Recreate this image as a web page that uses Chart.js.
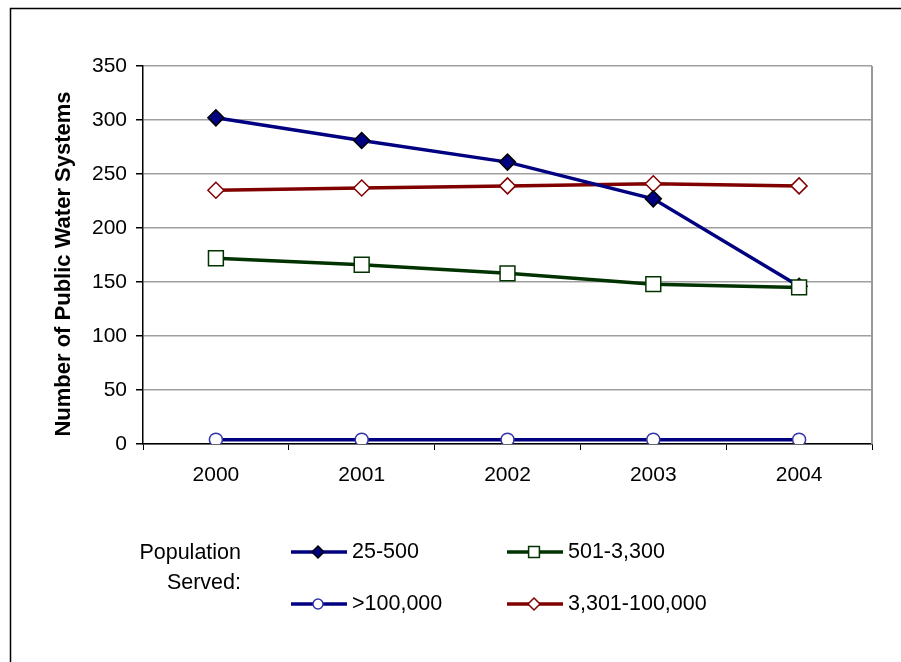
<!DOCTYPE html>
<html>
<head>
<meta charset="utf-8">
<script src="https://cdn.jsdelivr.net/npm/chart.js@4"></script>
<style>
  html, body { margin:0; padding:0; background:#fff; }
  #wrap { width:901px; height:662px; position:relative; }
</style>
</head>
<body>
<div id="wrap"><canvas id="waterChart" width="901" height="662"></canvas></div>
<script>
const years = ['2000','2001','2002','2003','2004'];

const small = [302, 281, 261, 227, 146];          // 25-500
const medium = [172, 166, 158, 148, 145];         // 501-3,300
const large = [235, 237, 239, 241, 239];          // 3,301-100,000
const veryLarge = [4, 4, 4, 4, 4];                // >100,000

const yTicks = [0, 50, 100, 150, 200, 250, 300, 350];
const yTitle = 'Number of Public Water Systems';

const FONT = 'Arial, "Liberation Sans", sans-serif';

// legend order as in the picture: col 1 / col 2, row 1 / row 2
const legendItems = [
  { ds: 0, col: 0, row: 0 },
  { ds: 1, col: 1, row: 0 },
  { ds: 3, col: 0, row: 1 },
  { ds: 2, col: 1, row: 1 }
];

// ==========================
// FRAME + RIGHT BORDER + TITLE + LEGEND
// ==========================
const decorPlugin = {
  id: 'decor',
  beforeDraw(chart){
    const ctx = chart.ctx;
    ctx.save();
    ctx.strokeStyle = '#000';
    ctx.lineWidth = 1.5;
    ctx.strokeRect(10.5, 8.5, 1200, 1200);
    ctx.restore();
  },
  beforeDatasetsDraw(chart){
    const {ctx, chartArea} = chart;
    ctx.save();
    ctx.strokeStyle = '#999';
    ctx.lineWidth = 2;
    ctx.beginPath();
    ctx.moveTo(chartArea.right, chartArea.top);
    ctx.lineTo(chartArea.right, chartArea.bottom);
    ctx.stroke();
    ctx.restore();
  },
  afterDraw(chart){
    const ctx = chart.ctx;
    ctx.save();
    // y axis title (Excel centres it a bit lower than the plot)
    ctx.save();
    ctx.translate(64, 264);
    ctx.rotate(-Math.PI / 2);
    ctx.font = 'bold 22px ' + FONT;
    ctx.fillStyle = '#000';
    ctx.textAlign = 'center';
    ctx.textBaseline = 'middle';
    ctx.fillText(yTitle, 0, 0);
    ctx.restore();

    ctx.font = '21.5px ' + FONT;
    ctx.fillStyle = '#000';
    ctx.textAlign = 'right';
    ctx.textBaseline = 'middle';
    ctx.fillText('Population', 241, 553);
    ctx.fillText('Served:', 241, 583);

    const colX = [291, 507];
    const rowY = [552, 604];
    legendItems.forEach(it => {
      const ds = chart.data.datasets[it.ds];
      const x0 = colX[it.col], y = rowY[it.row];
      const cx = x0 + 27;
      ctx.strokeStyle = ds.borderColor;
      ctx.lineWidth = 3.5;
      ctx.beginPath();
      ctx.moveTo(x0, y);
      ctx.lineTo(x0 + 56, y);
      ctx.stroke();
      ctx.fillStyle = ds.pointBackgroundColor;
      ctx.strokeStyle = ds.pointBorderColor;
      ctx.lineWidth = 1.5;
      const r = ds.pointStyle === 'rect' ? 7.5 : 6;
      ctx.beginPath();
      if (ds.pointStyle === 'rect') {
        ctx.rect(cx - r*0.72, y - r*0.72, r*1.44, r*1.44);
      } else if (ds.pointStyle === 'rectRot') {
        ctx.moveTo(cx, y - r); ctx.lineTo(cx + r, y);
        ctx.lineTo(cx, y + r); ctx.lineTo(cx - r, y);
        ctx.closePath();
      } else {
        ctx.arc(cx, y, r - 1, 0, Math.PI * 2);
      }
      ctx.fill();
      ctx.stroke();
      ctx.fillStyle = '#000';
      ctx.textAlign = 'left';
      ctx.fillText(ds.label, x0 + 61, y);
    });
    ctx.restore();
  }
};

const chart = new Chart(document.getElementById('waterChart'), {
  type: 'line',
  data: {
    labels: years,
    datasets: [
      {
        label: '25-500', data: small,
        borderColor: '#000080', borderWidth: 3.5,
        pointStyle: 'rectRot', pointRadius: 8,
        pointBackgroundColor: '#000080', pointBorderColor: '#000', pointBorderWidth: 1.5,
        tension: 0, order: 1
      },
      {
        label: '501-3,300', data: medium,
        borderColor: '#003300', borderWidth: 3.5,
        pointStyle: 'rect', pointRadius: 10.5,
        pointBackgroundColor: '#fff', pointBorderColor: '#003300', pointBorderWidth: 1.5,
        tension: 0, order: 0
      },
      {
        label: '3,301-100,000', data: large,
        borderColor: '#800000', borderWidth: 3.5,
        pointStyle: 'rectRot', pointRadius: 8,
        pointBackgroundColor: '#fff', pointBorderColor: '#800000', pointBorderWidth: 1.5,
        tension: 0, order: 2
      },
      {
        label: '>100,000', data: veryLarge,
        borderColor: '#000080', borderWidth: 3.5,
        pointStyle: 'circle', pointRadius: 6.5,
        pointBackgroundColor: '#fff', pointBorderColor: '#3333aa', pointBorderWidth: 1.5,
        tension: 0, order: 3
      }
    ]
  },
  options: {
    responsive: false,
    animation: false,
    layout: { padding: { left: 0, top: 66, right: 29, bottom: 168 } },
    plugins: {
      legend: { display: false },
      tooltip: { enabled: false }
    },
    scales: {
      x: {
        offset: true,
        grid: {
          offset: true, drawOnChartArea: false, drawTicks: true,
          tickLength: 6, tickColor: '#000'
        },
        border: { color: '#000', width: 1.5 },
        ticks: { color: '#000', font: { family: FONT, size: 21 }, padding: 13, maxRotation: 0 },
        afterFit(scale){ scale.height = 50; }
      },
      y: {
        min: 0, max: 350,
        afterBuildTicks(scale){ scale.ticks = yTicks.map(v => ({ value: v })); },
        grid: { color: '#a0a0a0', lineWidth: 1.5, tickLength: 7, tickColor: '#000' },
        border: { color: '#000', width: 1.5 },
        ticks: { color: '#000', font: { family: FONT, size: 21 }, padding: 9 },
        afterFit(scale){ scale.width = 143; }
      }
    }
  },
  plugins: [decorPlugin]
});
</script>
</body>
</html>
